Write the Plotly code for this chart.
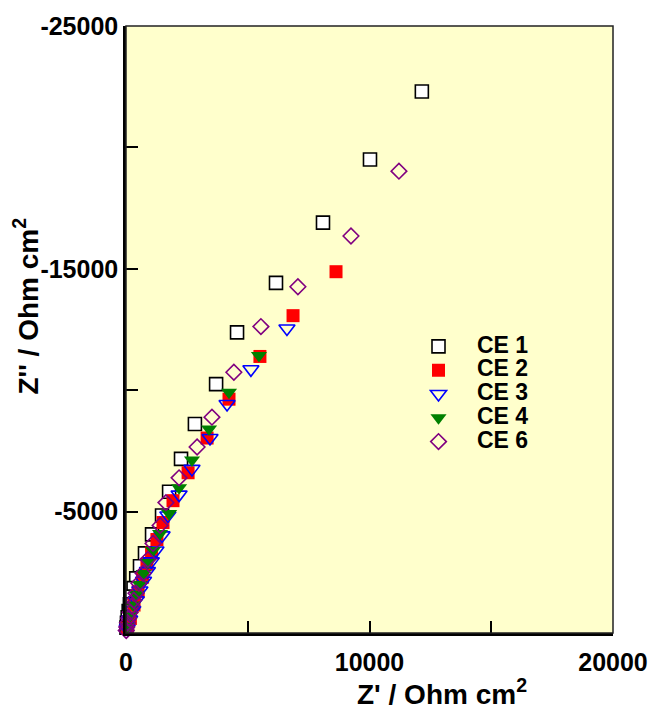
import plotly.graph_objects as go

# ---- data (Z' and Z'' in Ohm cm^2) ----
ce1_x = [12150, 10020, 8090, 6160, 4560, 3700, 2830, 2260, 1770, 1480, 1070, 780, 575, 420, 310, 230, 160, 110, 70, 40, 20]
ce1_y = [-22300, -19500, -16900, -14420, -12380, -10250, -8610, -7170, -5820, -4840, -4060, -3280, -2750, -2250, -1850, -1500, -1180, -900, -650, -420, -220]

ce2_x = [8625, 6860, 5500, 4230, 3330, 2550, 1930, 1520, 1270, 1050, 860, 680, 500, 330, 180, 60]
ce2_y = [-14880, -13070, -11390, -9630, -8030, -6600, -5450, -4550, -3850, -3300, -2830, -2300, -1700, -1150, -600, -200]

ce3_x = [6610, 5130, 4150, 3450, 2710, 2180, 1720, 1480, 1230, 1040, 880, 720, 570, 420, 280, 150, 50]
ce3_y = [-12540, -10860, -9430, -8030, -6760, -5700, -4840, -4020, -3400, -2950, -2550, -2150, -1750, -1350, -950, -550, -180]

ce4_x = [5460, 4230, 3410, 2710, 2180, 1770, 1400, 1110, 900, 720, 560, 420, 290, 170, 70]
ce4_y = [-11430, -9920, -8400, -7130, -5980, -4920, -4100, -3400, -2900, -2450, -2000, -1600, -1150, -700, -280]

ce6_x = [11210, 9240, 7060, 5540, 4430, 3530, 2920, 2180, 1640, 1400, 1110, 900, 700, 530, 410, 320, 240, 170, 110, 60, 30, 10]
ce6_y = [-19020, -16350, -14260, -12620, -10740, -8890, -7660, -6390, -5370, -4430, -3690, -3030, -2460, -2050, -1640, -1350, -1100, -850, -620, -420, -250, -100]

series_names = ["CE 1", "CE 2", "CE 3", "CE 4", "CE 6"]

x_tickvals = [0, 5000, 10000, 15000, 20000]
x_ticktext = ["0", "", "10000", "", "20000"]
y_tickvals = [-25000, -20000, -15000, -10000, -5000, 0]
y_ticktext = ["-25000", "", "-15000", "", "-5000", ""]

FONT = "Liberation Sans, Arial, sans-serif"

styles = [
    dict(symbol="square", size=13, color="white", line=dict(color="black", width=1.6)),
    dict(symbol="square", size=13, color="#FF0000", line=dict(color="#FF0000", width=0)),
    dict(symbol="triangle-down-open", size=14, color="#0000FF", line=dict(color="#0000FF", width=1.6)),
    dict(symbol="triangle-down", size=14, color="#008000", line=dict(color="#008000", width=0)),
    dict(symbol="diamond-open", size=12, color="#800080", line=dict(color="#800080", width=1.6)),
]
data = [(ce1_x, ce1_y), (ce2_x, ce2_y), (ce3_x, ce3_y), (ce4_x, ce4_y), (ce6_x, ce6_y)]

fig = go.Figure()
for (xs, ys), name, st in zip(data, series_names, styles):
    fig.add_trace(go.Scatter(
        x=xs, y=ys, mode="markers",
        name='<span style="font-size:23px">' + name + '</span>',
        marker=st, cliponaxis=False))

fig.update_layout(
    width=660, height=713,
    margin=dict(l=126, r=47, t=23, b=80),
    paper_bgcolor="white",
    plot_bgcolor="#FFFFCC",
    font=dict(family=FONT, color="black"),
    showlegend=True,
    legend=dict(
        x=(400 - 126) / 487, y=0.50, xanchor="left", yanchor="top",
        bgcolor="rgba(0,0,0,0)", borderwidth=0,
        font=dict(family=FONT, size=16, color="black", weight="bold"),
        itemwidth=67, tracegroupgap=0,
    ),
    xaxis=dict(
        range=[0, 20000], tickvals=x_tickvals, ticktext=x_ticktext,
        ticks="inside", ticklen=12, tickwidth=1.5, tickcolor="black",
        showgrid=False, zeroline=False,
        showline=True, linecolor="black", linewidth=2.5,
        ticklabelstandoff=5,
        tickfont=dict(family=FONT, size=25, color="black", weight="bold"),
    ),
    yaxis=dict(
        range=[0, -25000], tickvals=y_tickvals, ticktext=y_ticktext,
        ticks="inside", ticklen=12, tickwidth=1.5, tickcolor="black",
        showgrid=False, zeroline=False,
        showline=True, linecolor="black", linewidth=2.5,
        tickfont=dict(family=FONT, size=25, color="black", weight="bold"),
    ),
    shapes=[dict(type="rect", xref="paper", yref="paper", x0=0, x1=1, y0=0, y1=1,
                 line=dict(color="#222222", width=1.5), layer="above")],
    annotations=[
        dict(text="Z' / Ohm cm<sup>2</sup>", xref="paper", yref="paper",
             x=(442 - 126) / 487, y=-(692 - 633) / 610, xanchor="center", yanchor="middle",
             showarrow=False, font=dict(family=FONT, size=28, color="black", weight="bold")),
        dict(text="Z'' / Ohm cm<sup>2</sup>", xref="paper", yref="paper",
             x=-(126 - 26) / 487, y=(633 - 305) / 610, xanchor="center", yanchor="middle",
             textangle=-90,
             showarrow=False, font=dict(family=FONT, size=28, color="black", weight="bold")),
    ],
)

fig.write_html("out.html")
